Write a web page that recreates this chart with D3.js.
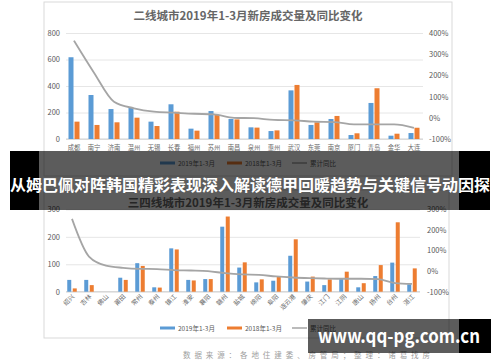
<!DOCTYPE html>
<html>
<head>
<meta charset="utf-8">
<script src="https://cdn.jsdelivr.net/npm/d3@7"></script>
<style>
  body { margin: 0; background: #fff; }
  svg { display: block; }
  text { font-family: "Noto Sans CJK SC", "Noto Sans", sans-serif; }
</style>
</head>
<body>
<div id="chart"></div>
<script>
// second-tier cities
const citiesA = ["成都","南宁","济南","温州","无锡","长春","福州","苏州","南昌","泉州","惠州","武汉","东莞","南京","厦门","青岛","金华","大连"];
const vol2019A = [617, 332, 226, 236, 131, 262, 78, 211, 151, 88, 60, 367, 106, 151, 30, 272, 25, 45];
const vol2018A = [131, 106, 126, 161, 98, 206, 63, 181, 148, 86, 65, 408, 126, 174, 43, 383, 40, 85];
const yoyA = [364, 213, 76, 45, 29, 24, 19, 16, 0, -2, -10, -12, -18, -20, -31, -31, -31, -47];
const leftTicksA = [0, 200, 400, 600, 800];
const rightTicksA = [-100, 0, 100, 200, 300, 400];

// third/fourth-tier cities
const citiesB = ["绍兴","吉林","佛山","莆田","常州","泰州","镇江","淮安","襄阳","赣州","盐城","绵阳","阜阳","连云港","肇庆","江门","江阴","唐山","扬州","台州","湛江"];
const vol2019B = [43, 43, 0, 51, 104, 16, 158, 43, 46, 237, 88, 34, 40, 131, 37, 24, 46, 16, 57, 106, 27];
const vol2018B = [12, 24, 0, 43, 94, 15, 154, 41, 46, 274, 107, 45, 57, 191, 55, 45, 73, 31, 97, 253, 85];
const yoyB = [254, 71, 27, 16, 11, 10, 5, 3, 0, -10, -16, -18, -26, -31, -34, -36, -37, -37, -39, -58, -62];
const leftTicksB = [0, 100, 200, 300];
const rightTicksB = [-100, 0, 100, 200, 300];

const legendLabels = ["2019年1-3月", "2018年1-3月", "累计同比"];
const colors = { c2019: "#5b9bd5", c2018: "#ed7d31", yoy: "#a5a5a5" };

const svg = d3.select("#chart").append("svg")
  .attr("width", 500)
  .attr("height", 362);

function buildPanel(p) {
  const g = svg.append("g");

  // frame
  g.append("rect")
    .attr("x", p.frame[0]).attr("y", p.frame[1])
    .attr("width", p.frame[2] - p.frame[0]).attr("height", p.frame[3] - p.frame[1])
    .attr("fill", "#fff").attr("stroke", "#d9d9d9").attr("stroke-width", 1);

  // title
  g.append("text")
    .attr("x", 248).attr("y", p.titleY)
    .attr("text-anchor", "middle")
    .attr("font-size", 11.5).attr("font-weight", "bold")
    .attr("fill", "#666")
    .text(p.title);

  const x = d3.scaleBand().domain(p.cities).range(p.xRange);
  const y = d3.scaleLinear().domain(p.leftDomain).range(p.yRange);
  const y2 = d3.scaleLinear().domain(p.rightDomain).range(p.yRange);

  // gridlines + left axis
  const left = g.append("g")
    .attr("transform", `translate(${p.xRange[0]},0)`)
    .call(d3.axisLeft(y).tickValues(p.leftTicks).tickSize(-(p.gridRight - p.xRange[0])).tickPadding(4));
  left.select(".domain").remove();
  left.selectAll("line").attr("stroke", "#e6e6e6").attr("x1", p.gridLeft - p.xRange[0]);
  left.selectAll("text").attr("fill", "#595959").attr("font-size", 7.5)
    .attr("x", p.leftLabelX - p.xRange[0]);

  // right axis
  const right = g.append("g")
    .attr("transform", `translate(${p.rightLabelX},0)`)
    .call(d3.axisRight(y2).tickValues(p.rightTicks).tickSize(0).tickPadding(0).tickFormat(d => d + "%"));
  right.select(".domain").remove();
  right.selectAll("text").attr("fill", "#595959").attr("font-size", 7.5);

  // baseline
  g.append("line")
    .attr("x1", p.gridLeft).attr("x2", p.gridRight)
    .attr("y1", y(0)).attr("y2", y(0))
    .attr("stroke", "#d0d0d0");

  // bars
  const bw = p.barW, gap = p.barGap;
  g.selectAll(".b19").data(p.cities).enter().append("rect")
    .attr("x", d => x(d) + x.bandwidth() / 2 - bw - gap / 2)
    .attr("y", (d, i) => y(p.v19[i]))
    .attr("width", bw)
    .attr("height", (d, i) => y(0) - y(p.v19[i]))
    .attr("fill", colors.c2019);
  g.selectAll(".b18").data(p.cities).enter().append("rect")
    .attr("x", d => x(d) + x.bandwidth() / 2 + gap / 2)
    .attr("y", (d, i) => y(p.v18[i]))
    .attr("width", bw)
    .attr("height", (d, i) => y(0) - y(p.v18[i]))
    .attr("fill", colors.c2018);

  // cumulative yoy line
  const line = d3.line()
    .x((d, i) => x(p.cities[i]) + x.bandwidth() / 2)
    .y(d => y2(d))
    .curve(d3.curveMonotoneX);
  g.append("path")
    .datum(p.yoy)
    .attr("d", line)
    .attr("fill", "none")
    .attr("stroke", colors.yoy)
    .attr("stroke-width", 1.8);

  // category labels
  const lab = g.selectAll(".lab").data(p.cities).enter().append("text")
    .attr("font-size", 6.3)
    .attr("fill", "#6a6a6a")
    .text(d => d);
  if (p.rotate) {
    lab.attr("text-anchor", "end")
      .attr("transform", d => `translate(${x(d) + x.bandwidth() / 2 + 3},${p.labelY}) rotate(-45)`);
  } else {
    lab.attr("text-anchor", "middle")
      .attr("x", d => x(d) + x.bandwidth() / 2)
      .attr("y", p.labelY);
  }

  // legend
  const lx = [160, 227, 292];
  const lc = [colors.c2019, colors.c2018, colors.yoy];
  legendLabels.forEach((t, i) => {
    g.append("line")
      .attr("x1", lx[i]).attr("x2", lx[i] + 15)
      .attr("y1", p.legendY).attr("y2", p.legendY)
      .attr("stroke", lc[i]).attr("stroke-width", i < 2 ? 3 : 1.5);
    g.append("text")
      .attr("x", lx[i] + 18).attr("y", p.legendY + 2.5)
      .attr("font-size", 6.5).attr("fill", "#595959")
      .text(t);
  });
}

buildPanel({
  frame: [44, 2, 452, 176],
  title: "二线城市2019年1-3月新房成交量及同比变化",
  titleY: 20,
  cities: citiesA, v19: vol2019A, v18: vol2018A, yoy: yoyA,
  xRange: [64, 424], yRange: [139, 33],
  leftDomain: [0, 800], rightDomain: [-100, 400],
  leftTicks: leftTicksA, rightTicks: rightTicksA,
  gridLeft: 66, gridRight: 423, leftLabelX: 60, rightLabelX: 429,
  barW: 5, barGap: 1,
  labelY: 150, rotate: false, legendY: 163
});

buildPanel({
  frame: [44, 190, 449, 338],
  title: "三四线城市2019年1-3月新房成交量及同比变化",
  titleY: 207,
  cities: citiesB, v19: vol2019B, v18: vol2018B, yoy: yoyB,
  xRange: [63.5, 420.5], yRange: [291.7, 209.4],
  leftDomain: [0, 300], rightDomain: [-100, 300],
  leftTicks: leftTicksB, rightTicks: rightTicksB,
  gridLeft: 66, gridRight: 420, leftLabelX: 60, rightLabelX: 427,
  barW: 4, barGap: 1.5,
  labelY: 297, rotate: true, legendY: 328
});

// source note
svg.append("text")
  .attr("x", 183).attr("y", 358)
  .attr("font-size", 7.5).attr("fill", "#a0a0a0")
  .attr("textLength", 247).attr("lengthAdjust", "spacing")
  .text("数据来源：各地住建委、房管局；整理：诸葛找房");

// caption banner
const banner = svg.append("g");
banner.append("rect").attr("x", 10).attr("y", 151).attr("width", 29).attr("height", 59).attr("fill", "#000");
banner.append("rect").attr("x", 459).attr("y", 151).attr("width", 31).attr("height", 59).attr("fill", "#000");
banner.append("rect").attr("x", 39).attr("y", 151).attr("width", 420).attr("height", 59).attr("fill", "#000").attr("opacity", 0.64);
banner.append("text")
  .attr("x", 250).attr("y", 191)
  .attr("text-anchor", "middle")
  .attr("font-size", 15.5).attr("font-weight", "bold")
  .attr("fill", "#fff")
  .attr("textLength", 480).attr("lengthAdjust", "spacingAndGlyphs")
  .text("从姆巴佩对阵韩国精彩表现深入解读德甲回暖趋势与关键信号动因探");

// watermark
const wm = svg.append("g");
wm.append("rect").attr("x", 459).attr("y", 319).attr("width", 32).attr("height", 34).attr("fill", "#000");
wm.append("rect").attr("x", 308).attr("y", 319).attr("width", 151).attr("height", 34).attr("fill", "#000").attr("opacity", 0.64);
wm.append("text")
  .attr("x", 318).attr("y", 343)
  .attr("font-size", 19).attr("font-weight", "bold")
  .attr("fill", "#fff")
  .attr("textLength", 162).attr("lengthAdjust", "spacingAndGlyphs")
  .text("www.qq-pg.com.cn");
</script>
</body>
</html>
